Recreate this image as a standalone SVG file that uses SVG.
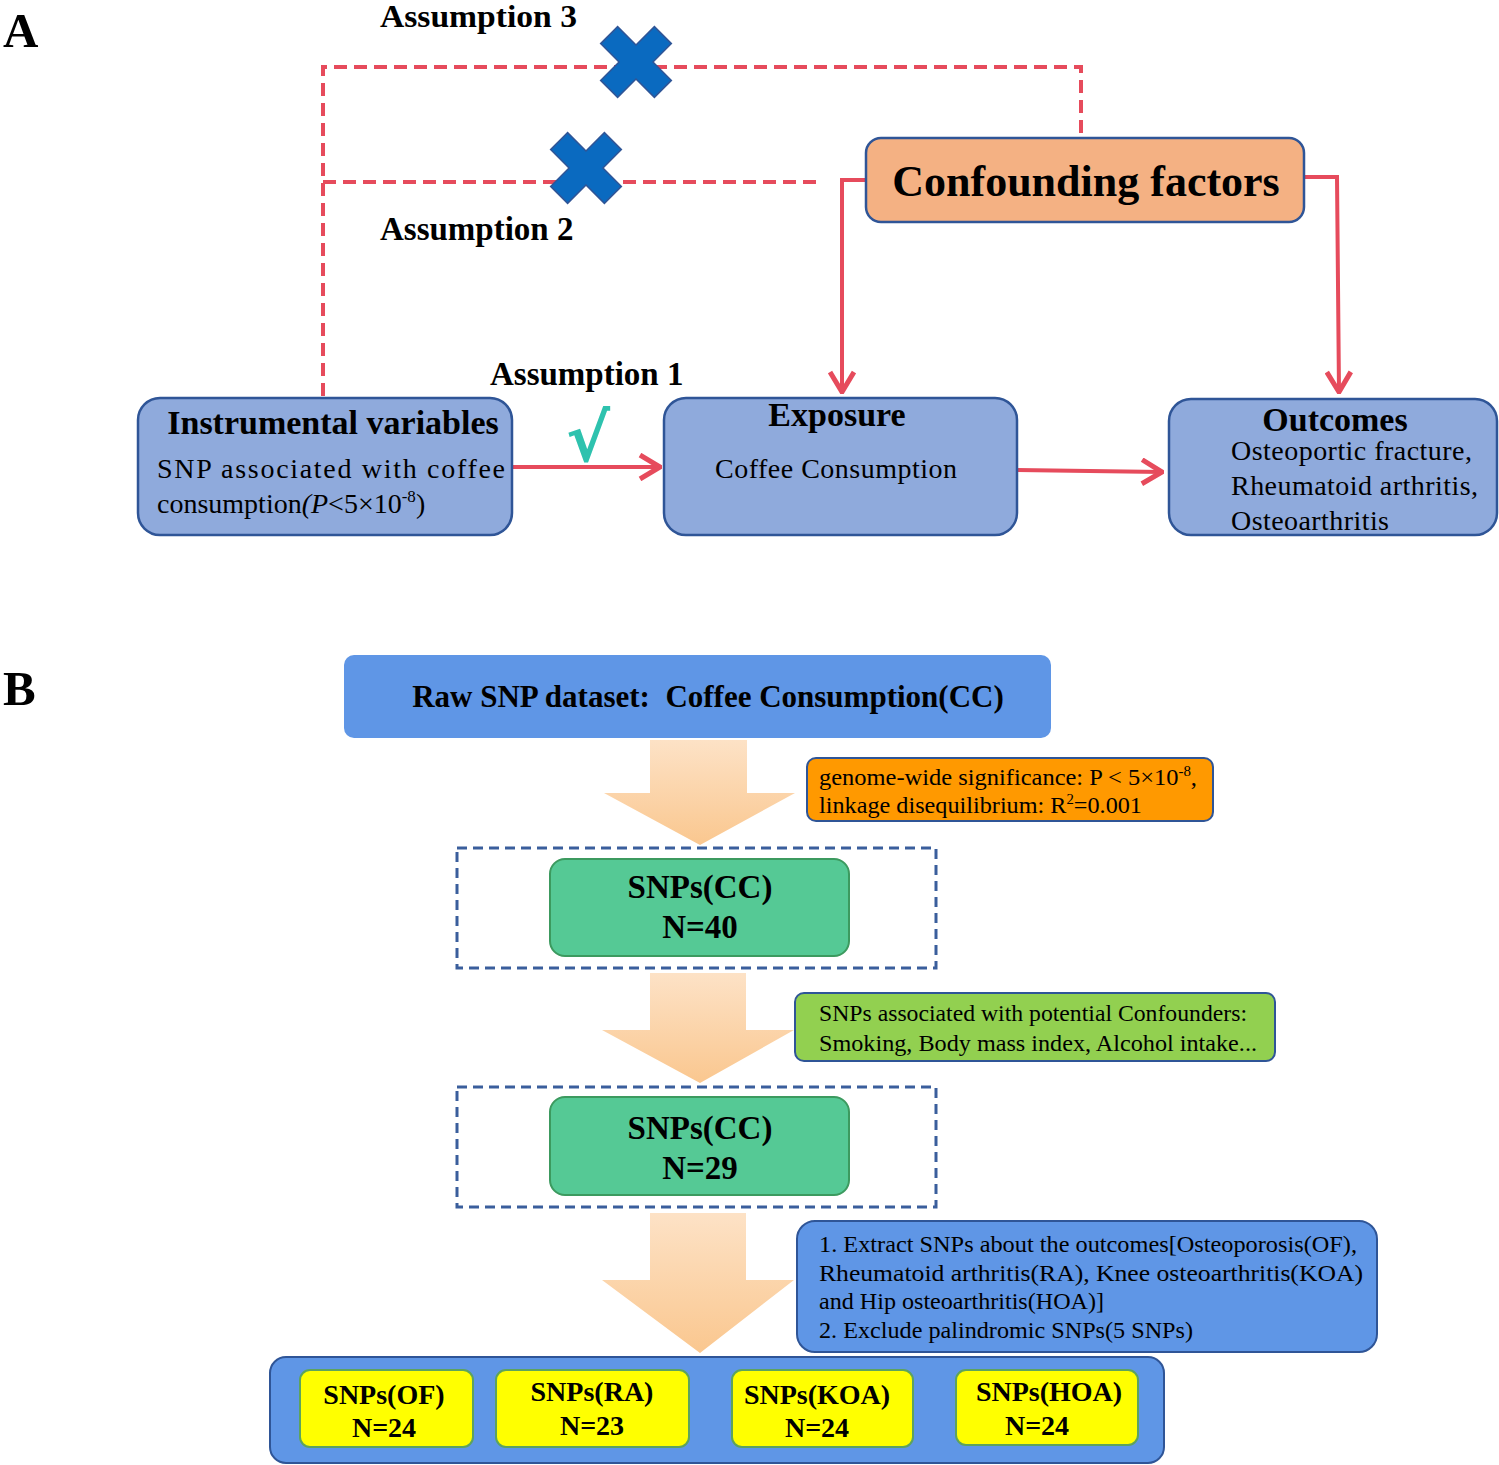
<svg xmlns="http://www.w3.org/2000/svg" width="1499" height="1465" viewBox="0 0 1499 1465">
<style>
text{font-family:"Liberation Serif","Times New Roman",serif;fill:#000}
.b{font-weight:bold}
.red{stroke:#E64B5C;stroke-width:4;fill:none}
.dash{stroke:#E64B5C;stroke-width:4;fill:none;stroke-dasharray:13 7}
.nodeA{fill:#8FAADC;stroke:#2F5597;stroke-width:2.5}
.bdash{fill:none;stroke:#3A5E9C;stroke-width:3;stroke-dasharray:10 6}
.blue{fill:#5F96E6;stroke:#2F5597;stroke-width:2}
.green{fill:#55C995;stroke:#3C9A5F;stroke-width:2}
.yel{fill:#FFFF00;stroke:#5DA35D;stroke-width:2}
</style>
<defs>
<marker id="ah2" viewBox="0 0 24 28" refX="22" refY="14" markerWidth="24" markerHeight="28" markerUnits="userSpaceOnUse" orient="auto">
<path d="M2,2 L22,14 L2,26" fill="none" stroke="#E64B5C" stroke-width="5"/>
</marker>
<g id="xmark">
<polygon transform="rotate(45)" points="-12,-38 12,-38 12,-12 38,-12 38,12 12,12 12,38 -12,38 -12,12 -38,12 -38,-12 -12,-12" fill="#0A6AC0" stroke="#2F5597" stroke-width="1.5"/>
</g>
<linearGradient id="pg" x1="0" y1="0" x2="0" y2="1">
<stop offset="0" stop-color="#FDE2C6"/>
<stop offset="1" stop-color="#FAC78F"/>
</linearGradient>
</defs>

<text x="3" y="47" class="b" font-size="49">A</text>
<text x="3" y="705" class="b" font-size="49">B</text>

<g id="connectors">
<polyline class="dash" points="323,396 323,67 1081,67 1081,135"/>
<line class="dash" x1="323" y1="182" x2="820" y2="182"/>
<polyline class="red" points="866,180 842,180 842,392" marker-end="url(#ah2)"/>
<polyline class="red" points="1304,177 1337,177 1339,392" marker-end="url(#ah2)"/>
<line class="red" x1="512" y1="467" x2="660" y2="467" marker-end="url(#ah2)"/>
<line class="red" x1="1017" y1="470" x2="1162" y2="472" marker-end="url(#ah2)"/>
</g>

<g id="assumption-marks">
<use href="#xmark" x="636" y="62"/>
<use href="#xmark" x="586" y="168"/>
<text x="380" y="27" class="b" font-size="32" textLength="197" lengthAdjust="spacingAndGlyphs">Assumption 3</text>
<text x="380" y="240" class="b" font-size="33">Assumption 2</text>
<text x="490" y="385" class="b" font-size="33">Assumption 1</text>
<text x="588" y="461" font-size="66" style="fill:#2EC2AE;font-family:'DejaVu Sans',sans-serif" text-anchor="middle" font-weight="bold">√</text>
</g>

<g id="confounding">
<rect x="866" y="138" width="438" height="84" rx="15" fill="#F4B183" stroke="#2F5597" stroke-width="2.5"/>
<text x="1086" y="196" class="b" font-size="44" text-anchor="middle">Confounding factors</text>
</g>

<g id="instrumental">
<rect class="nodeA" x="138" y="398" width="374" height="137" rx="22"/>
<text x="333" y="434" class="b" font-size="34" text-anchor="middle">Instrumental variables</text>
<text x="157" y="478" font-size="28" textLength="348" lengthAdjust="spacing">SNP associated with coffee</text>
<text x="157" y="513" font-size="28">consumption<tspan font-style="italic">(P</tspan>&lt;5×10<tspan font-size="17" dy="-11">-8</tspan><tspan dy="11">)</tspan></text>
</g>

<g id="exposure">
<rect class="nodeA" x="664" y="398" width="353" height="137" rx="22"/>
<text x="837" y="426" class="b" font-size="34" text-anchor="middle">Exposure</text>
<text x="836" y="478" font-size="28" text-anchor="middle" textLength="242" lengthAdjust="spacing">Coffee Consumption</text>
</g>

<g id="outcomes">
<rect class="nodeA" x="1169" y="399" width="328" height="136" rx="22"/>
<text x="1335" y="431" class="b" font-size="34" text-anchor="middle">Outcomes</text>
<text x="1231" y="460" font-size="28" textLength="241" lengthAdjust="spacing">Osteoportic fracture,</text>
<text x="1231" y="495" font-size="28" textLength="247" lengthAdjust="spacing">Rheumatoid arthritis,</text>
<text x="1231" y="530" font-size="28" textLength="158" lengthAdjust="spacing">Osteoarthritis</text>
</g>

<g id="raw">
<rect x="344" y="655" width="707" height="83" rx="10" fill="#5F96E6"/>
<text x="708" y="707" class="b" font-size="31" text-anchor="middle" xml:space="preserve">Raw SNP dataset:  Coffee Consumption(CC)</text>
</g>

<g id="bigarrows">
<polygon points="650,740 747,740 747,793 795,793 700,845 604,793 650,793" fill="url(#pg)"/>
<polygon points="650,973 746,973 746,1030 794,1030 700,1083 602,1030 650,1030" fill="url(#pg)"/>
<polygon points="650,1213 746,1213 746,1280 794,1280 700,1353 602,1280 650,1280" fill="url(#pg)"/>
</g>

<g id="filter1">
<rect x="807" y="758" width="406" height="63" rx="9" fill="#FF9900" stroke="#2F5597" stroke-width="2"/>
<text x="819" y="785" font-size="23" textLength="378" lengthAdjust="spacingAndGlyphs">genome-wide significance: P &lt; 5×10<tspan font-size="14" dy="-9">-8</tspan><tspan dy="9">,</tspan></text>
<text x="819" y="813" font-size="23" textLength="323" lengthAdjust="spacingAndGlyphs">linkage disequilibrium: R<tspan font-size="14" dy="-9">2</tspan><tspan dy="9">=0.001</tspan></text>
</g>

<g id="snps40">
<rect class="bdash" x="457" y="848" width="479" height="120"/>
<rect class="green" x="550" y="859" width="299" height="97" rx="15"/>
<text x="700" y="898" class="b" font-size="33" text-anchor="middle">SNPs(CC)</text>
<text x="700" y="938" class="b" font-size="33" text-anchor="middle">N=40</text>
</g>

<g id="filter2">
<rect x="795" y="993" width="480" height="68" rx="9" fill="#92D050" stroke="#2F5597" stroke-width="2"/>
<text x="819" y="1021" font-size="23" textLength="428" lengthAdjust="spacingAndGlyphs">SNPs associated with potential Confounders:</text>
<text x="819" y="1051" font-size="23" textLength="438" lengthAdjust="spacingAndGlyphs">Smoking, Body mass index, Alcohol intake...</text>
</g>

<g id="snps29">
<rect class="bdash" x="457" y="1087" width="479" height="120"/>
<rect class="green" x="550" y="1097" width="299" height="98" rx="15"/>
<text x="700" y="1139" class="b" font-size="33" text-anchor="middle">SNPs(CC)</text>
<text x="700" y="1179" class="b" font-size="33" text-anchor="middle">N=29</text>
</g>

<g id="filter3">
<rect class="blue" x="797" y="1221" width="580" height="131" rx="18"/>
<text x="819" y="1252" font-size="23" textLength="538" lengthAdjust="spacingAndGlyphs">1. Extract SNPs about the outcomes[Osteoporosis(OF),</text>
<text x="819" y="1281" font-size="23" textLength="544" lengthAdjust="spacingAndGlyphs">Rheumatoid arthritis(RA), Knee osteoarthritis(KOA)</text>
<text x="819" y="1309" font-size="23" textLength="285" lengthAdjust="spacingAndGlyphs">and Hip osteoarthritis(HOA)]</text>
<text x="819" y="1338" font-size="23" textLength="374" lengthAdjust="spacingAndGlyphs">2. Exclude palindromic SNPs(5 SNPs)</text>
</g>

<g id="final">
<rect class="blue" x="270" y="1357" width="894" height="106" rx="16"/>
<g id="of">
<rect class="yel" x="300" y="1370" width="173" height="77" rx="10"/>
<text x="384" y="1404" class="b" font-size="28" text-anchor="middle">SNPs(OF)</text>
<text x="384" y="1437" class="b" font-size="28" text-anchor="middle">N=24</text>
</g>
<g id="ra">
<rect class="yel" x="496" y="1370" width="193" height="77" rx="10"/>
<text x="592" y="1401" class="b" font-size="28" text-anchor="middle">SNPs(RA)</text>
<text x="592" y="1435" class="b" font-size="28" text-anchor="middle">N=23</text>
</g>
<g id="koa">
<rect class="yel" x="732" y="1370" width="181" height="77" rx="10"/>
<text x="817" y="1404" class="b" font-size="28" text-anchor="middle">SNPs(KOA)</text>
<text x="817" y="1437" class="b" font-size="28" text-anchor="middle">N=24</text>
</g>
<g id="hoa">
<rect class="yel" x="956" y="1370" width="182" height="75" rx="10"/>
<text x="1049" y="1401" class="b" font-size="28" text-anchor="middle">SNPs(HOA)</text>
<text x="1037" y="1435" class="b" font-size="28" text-anchor="middle">N=24</text>
</g>
</g>
</svg>
